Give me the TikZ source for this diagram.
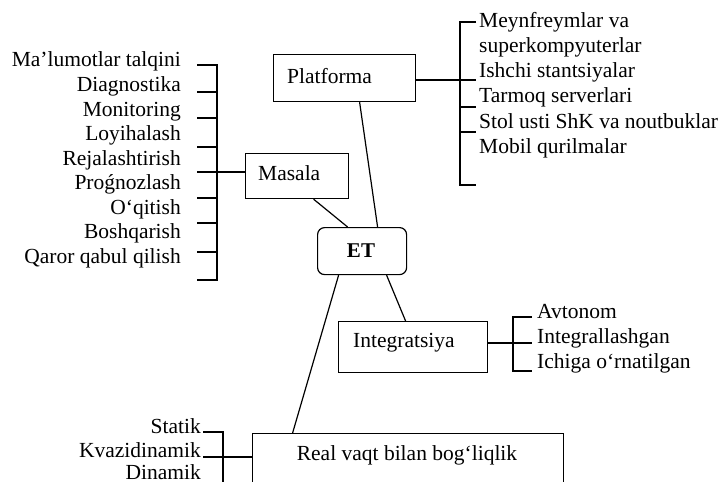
\documentclass[tikz,border=0pt]{standalone}
\usepackage{fontspec}
\setmainfont{Liberation Serif}
\begin{document}
\begin{tikzpicture}[x=1pt,y=-1pt,
  box/.style={draw, line width=1.2pt, rectangle, inner sep=0pt, anchor=north west},
  lbl/.style={inner sep=0pt, font=\fontsize{21.5}{24}\selectfont},
  ln/.style={line width=1.2pt}]
\useasboundingbox (0,0) rectangle (721,482);
% boxes
\node[box, minimum width=142pt, minimum height=47pt] (platforma) at (273,54) {};
\node[lbl, anchor=base west] (platformaT) at (287,83) {Platforma};
\node[box, minimum width=103pt, minimum height=45pt] (masala) at (245,153) {};
\node[lbl, anchor=base west] (masalaT) at (258,180) {Masala};
\node[box, rounded corners=7pt, minimum width=89pt, minimum height=47pt] (et) at (317,227) {};
\node[lbl, anchor=base, font=\fontsize{21}{24}\selectfont\bfseries] (etT) at (361,257) {ET};
\node[box, minimum width=149pt, minimum height=51pt] (integ) at (338,321) {};
\node[lbl, anchor=base west] (integT) at (353,347) {Integratsiya};
\node[box, minimum width=311pt, minimum height=70pt] (real) at (252,433) {};
\node[lbl, anchor=base] (realT) at (407,460) {Real vaqt bilan bog‘liqlik};
% connectors from ET
\draw[ln] ([xshift=16.5pt]masala.south) -- ([xshift=-14.5pt]et.north);
\draw[ln] ([xshift=15pt]platforma.south) -- ([xshift=15.5pt]et.north);
\draw[ln] ([xshift=24.5pt]et.south) -- ([xshift=-7.5pt]integ.north);
\draw[ln] ([xshift=-23.5pt]et.south) -- ([xshift=-115.5pt]real.north);
% left list
\foreach \t/\y [count=\i] in {Ma’lumotlar talqini/66, Diagnostika/91.5, Monitoring/116, Loyihalash/140.5, Rejalashtirish/165, Proǵnozlash/189.5, O‘qitish/214, Boshqarish/238.5, Qaror qabul qilish/263}
  \node[lbl, anchor=base east] (m\i) at (181,\y) {\t};
\draw[ln] (197,65) -- (217,65) -- (217,280) -- (197,280);
\foreach \y in {92,118,147,198,223,252} \draw[ln] (197,\y) -- (217,\y);
\coordinate (lb) at (217,172);
\draw[ln] (197,172) -- (masala.west |- lb);
% platforma list
\foreach \t/\y [count=\i] in {Meynfreymlar va/27, superkompyuterlar/52.5, Ishchi stantsiyalar/77.5, Tarmoq serverlari/102.5, Stol usti ShK va noutbuklar/128, Mobil qurilmalar/153}
  \node[lbl, anchor=base west] (p\i) at (479,\y) {\t};
\draw[ln] (476,22) -- (460,22) -- (460,185) -- (476,185);
\foreach \y in {107,132} \draw[ln] (460,\y) -- (476,\y);
\coordinate (pb) at (460,80);
\draw[ln] (platforma.east |- pb) -- (476,80);
% integratsiya list
\foreach \t/\y [count=\i] in {Avtonom/318.5, Integrallashgan/343.5, Ichiga o‘rnatilgan/368}
  \node[lbl, anchor=base west] (i\i) at (537,\y) {\t};
\draw[ln] (532,317) -- (513,317) -- (513,371) -- (532,371);
\coordinate (ib) at (513,343);
\draw[ln] (integ.east |- ib) -- (532,343);
% real vaqt list
\foreach \t/\y [count=\i] in {Statik/433, Kvazidinamik/457.5, Dinamik/479}
  \node[lbl, anchor=base east] (r\i) at (201,\y) {\t};
\draw[ln] (203,432) -- (223,432) -- (223,495);
\coordinate (kb) at (223,457);
\draw[ln] (203,457) -- (real.west |- kb);
\end{tikzpicture}
\end{document}
